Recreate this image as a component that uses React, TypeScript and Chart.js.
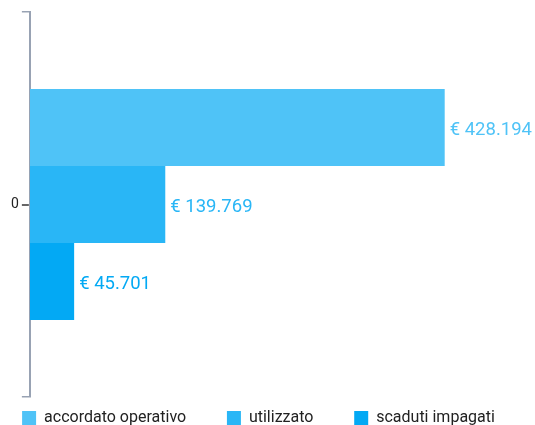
import React, { useEffect, useRef } from "react";
import { Chart, registerables } from "chart.js";

Chart.register(...registerables);

const categories = ["0"];
const seriesNames = ["accordato operativo", "utilizzato", "scaduti impagati"];
const seriesValues = [[428194], [139769], [45701]];
const seriesColors = ["#4fc3f7", "#29b6f6", "#03a9f4"];
const legendTrailingSpaces = [7, 7, 0];

function formatEuro(v: number): string {
  const s = Math.round(v).toString().replace(/\B(?=(\d{3})+(?!\d))/g, ".");
  return "€ " + s;
}

const valueLabelPlugin = {
  id: "valueLabels",
  afterDatasetsDraw(chart: any) {
    const ctx = chart.ctx;
    ctx.save();
    ctx.font = "18.5px Roboto";
    ctx.textBaseline = "middle";
    ctx.textAlign = "left";
    chart.data.datasets.forEach((ds: any, i: number) => {
      const meta = chart.getDatasetMeta(i);
      meta.data.forEach((bar: any, j: number) => {
        ctx.fillStyle = seriesColors[i];
        ctx.fillText(formatEuro(ds.data[j]), bar.x + 5, bar.y + 3);
      });
    });
    ctx.restore();
  },
};

const labelTickPlugin = {
  id: "labelTick",
  afterDraw(chart: any) {
    const y = chart.scales.y;
    const ctx = chart.ctx;
    ctx.save();
    ctx.strokeStyle = "#333333";
    ctx.lineWidth = 1.5;
    y.ticks.forEach((_t: any, i: number) => {
      const py = Math.round(y.getPixelForTick(i));
      ctx.beginPath();
      ctx.moveTo(y.right - 8, py);
      ctx.lineTo(y.right - 1, py);
      ctx.stroke();
    });
    ctx.restore();
  },
};

export default function App() {
  const ref = useRef<HTMLCanvasElement>(null);
  useEffect(() => {
    if (!ref.current) return;
    document.body.style.overflow = "hidden";
    document.body.style.margin = "8px 0 8px 8px";
    Chart.defaults.font.family = "Roboto";
    const maxVal = Math.max(...seriesValues.map((s) => Math.max(...s)));
    const chart = new Chart(ref.current, {
      type: "bar",
      data: {
        labels: categories,
        datasets: seriesNames.map((name, i) => ({
          label: name,
          data: seriesValues[i],
          backgroundColor: seriesColors[i],
          borderWidth: 0,
          categoryPercentage: 0.6,
          barPercentage: 1,
        })),
      },
      options: {
        indexAxis: "y",
        animation: false,
        responsive: false,
        layout: { padding: { top: 4, left: 0, right: 26, bottom: 0 } },
        scales: {
          x: { display: false, min: 0, max: maxVal * 1.155 },
          y: {
            border: { display: true, color: "#98a2b3", width: 2 },
            grid: { drawOnChartArea: false, color: "#98a2b3", tickLength: 8, offset: true, lineWidth: 1.5 },
            ticks: { color: "#222222", font: { size: 14, family: "Roboto" }, padding: 3 },
            afterFit: (scale: any) => {
              scale.paddingTop = 0;
              scale.paddingBottom = 0;
            },
          },
        },
        plugins: {
          legend: {
            position: "bottom",
            labels: {
              boxWidth: 14,
              boxHeight: 14,
              padding: 13,
              color: "#222222",
              font: { size: 16, family: "Roboto" },
              generateLabels: (c: any) =>
                Chart.defaults.plugins.legend.labels
                  .generateLabels(c)
                  .map((item: any, i: number) => ({
                    ...item,
                    text: item.text + "\u00a0".repeat(legendTrailingSpaces[i] || 0),
                  })),
            },
          },
          tooltip: { enabled: false },
        },
      },
      plugins: [valueLabelPlugin, labelTickPlugin],
    });
    return () => chart.destroy();
  }, []);
  return (
    <div>
      <canvas ref={ref} width={527} height={428} style={{ display: "block" }} />
    </div>
  );
}
